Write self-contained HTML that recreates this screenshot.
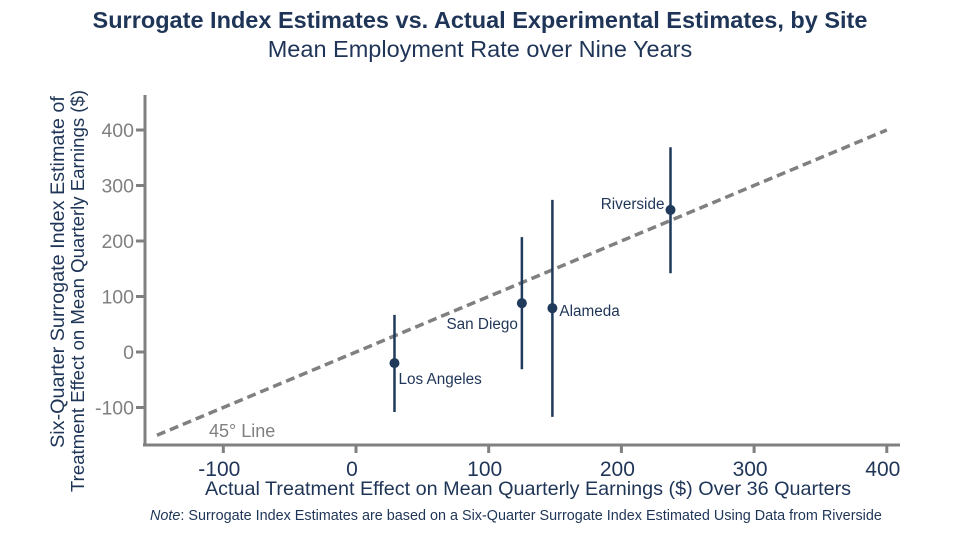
<!DOCTYPE html>
<html><head><meta charset="utf-8"><style>
body{margin:0;background:#fff;}
svg{display:block;font-family:"Liberation Sans",sans-serif;}
</style></head><body>
<svg id="chart" width="960" height="540">
<text x="480" y="28" text-anchor="middle" font-size="23.5" font-weight="bold" fill="#1f3557">Surrogate Index Estimates vs. Actual Experimental Estimates, by Site</text>
<text x="480" y="57" text-anchor="middle" font-size="23.5" fill="#1f3557">Mean Employment Rate over Nine Years</text>
<g>
<text transform="translate(64,272) rotate(-90)" text-anchor="middle" font-size="19.8" fill="#1f3557">Six-Quarter Surrogate Index Estimate of</text>
<text transform="translate(84,291) rotate(-90)" text-anchor="middle" font-size="18.6" fill="#1f3557">Treatment Effect on Mean Quarterly Earnings ($)</text>
</g>
<text x="528" y="495" text-anchor="middle" font-size="19.8" fill="#1f3557">Actual Treatment Effect on Mean Quarterly Earnings ($) Over 36 Quarters</text>
<text x="150" y="520" font-size="14.4" fill="#1f3557"><tspan font-style="italic">Note</tspan>: Surrogate Index Estimates are based on a Six-Quarter Surrogate Index Estimated Using Data from Riverside</text>
<g id="axes"></g>
<g id="marks"></g>
</svg>
<script>
const sites = ["Los Angeles","San Diego","Alameda","Riverside"];
const actual = [29, 125, 148, 237];
const surrogate = [-20, 88, 79, 256];
const ciLow = [-108, -31, -117, 142];
const ciHigh = [67, 207, 274, 369];
const xTicks = [-100, 0, 100, 200, 300, 400];
const yTicks = [-100, 0, 100, 200, 300, 400];
const lineRange = [-150, 400];

const xs = v => 356 + v * 1.327;
const ys = v => 352 - v * 0.555;
const NS = "http://www.w3.org/2000/svg";
function mk(tag, attrs, parent, text){
  const e = document.createElementNS(NS, tag);
  for (const k in attrs) e.setAttribute(k, attrs[k]);
  if (text !== undefined) e.textContent = text;
  parent.appendChild(e); return e;
}
const axes = document.getElementById('axes');
const marks = document.getElementById('marks');
let el = mk('line',{x1:145,y1:95,x2:145,y2:446,stroke:'#808080','stroke-width':3},axes);


el = mk('line',{x1:143,y1:445,x2:900,y2:445,stroke:'#808080','stroke-width':3},axes);


yTicks.forEach(t=>{
  const y = ys(t);
  let tk = mk('line',{x1:136,y1:y,x2:145,y2:y,stroke:'#808080','stroke-width':3},axes);
  
  
  let lb = mk('text',{x:134,y:y+7,'text-anchor':'end','font-size':19.5,fill:'#808080'},axes,String(t));
  
  
});
xTicks.forEach(t=>{
  const x = xs(t);
  let tk = mk('line',{x1:x,y1:445,x2:x,y2:453,stroke:'#808080','stroke-width':3},axes);
  
  
  let lb = mk('text',{x:x-4,y:476,'text-anchor':'middle','font-size':21,fill:'#1f3557'},axes,String(t));
  
  
});
el = mk('line',{x1:xs(lineRange[0]),y1:ys(lineRange[0]),x2:xs(lineRange[1]),y2:ys(lineRange[1]),stroke:'#808080','stroke-width':3.5,'stroke-dasharray':'9,5'},marks);


el = mk('text',{x:209,y:437,'font-size':18,fill:'#808080'},marks,'45° Line');


const labelPos = [
  {dx:4,dy:21,anchor:'start'},
  {dx:-4,dy:26,anchor:'end'},
  {dx:7,dy:8,anchor:'start'},
  {dx:-6,dy:-1,anchor:'end'}
];
sites.forEach((s,i)=>{
  const x = xs(actual[i]), y = ys(surrogate[i]);
  let ci = mk('line',{x1:x,y1:ys(ciLow[i]),x2:x,y2:ys(ciHigh[i]),stroke:'#1f3a5a','stroke-width':2.5},marks);
  
  
  let pt = mk('circle',{cx:x,cy:y,r:5,fill:'#1f3a5a'},marks);
  
  
  const p = labelPos[i];
  let lb = mk('text',{x:x+p.dx,y:y+p.dy,'text-anchor':p.anchor,'font-size':15.3,fill:'#1f3557'},marks,s);
  
  
});
</script>
</body></html>
